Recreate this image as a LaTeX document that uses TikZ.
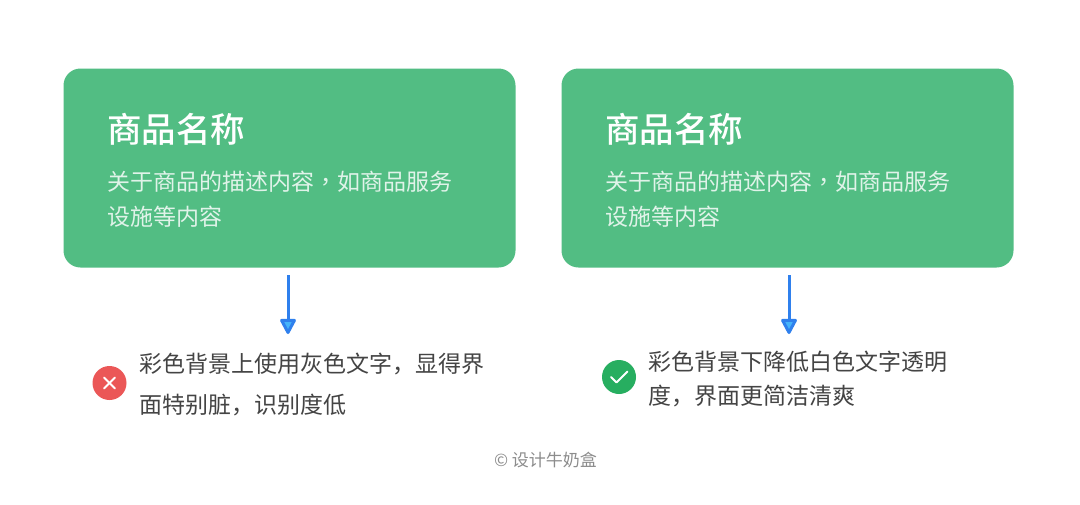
\documentclass[tikz,border=0pt]{standalone}
\usepackage{fontspec}
\setmainfont{Noto Sans CJK SC}
\newfontfamily\tcfont{Noto Sans CJK TC}
\newfontfamily\titlefont{Noto Sans CJK SC Medium}
\usetikzlibrary{arrows.meta}
\definecolor{cardgreen}{HTML}{52BD83}
\definecolor{softwhite}{HTML}{E0F3E9}
\definecolor{bodygrey}{HTML}{444444}
\definecolor{footgrey}{HTML}{8C8C8C}
\definecolor{arrowblue}{HTML}{2F80ED}
\definecolor{arrowfill}{HTML}{45B4FA}
\definecolor{badred}{HTML}{EB5757}
\definecolor{goodgreen}{HTML}{27AE60}
\tikzset{
  x=1pt,y=-1pt,
  card/.style={fill=cardgreen,rounded corners=17pt,minimum width=452pt,minimum height=199pt,inner sep=0pt,draw=none},
  cardtitle/.style={text=white,anchor=base west,inner sep=0pt,font=\fontsize{34.5}{40}\titlefont},
  cardbody/.style={text=softwhite,anchor=base west,inner sep=0pt,font=\fontsize{23}{34}\selectfont},
  note/.style={text=bodygrey,anchor=base west,inner sep=0pt,font=\fontsize{23}{42}\selectfont},
  flow/.style={draw=arrowblue,line width=3pt,-{Triangle[open,round,fill=arrowfill,length=17pt,width=17pt,line width=3pt]}},
  badge/.style={circle,minimum size=34pt,inner sep=0pt},
  glyphline/.style={draw=white,line width=2pt,line cap=round,line join=round},
  foot/.style={text=footgrey,inner sep=0pt,font=\fontsize{17}{20}\selectfont}
}
\begin{document}
\begin{tikzpicture}
\useasboundingbox (0,0) rectangle (1080,504);
\fill[white] (0,0) rectangle (1080,504);
\node[card] (c1) at (289.5,168) {};
\node[card] (c2) at (787.5,168) {};
\node[cardtitle] (t1) at (107,142) {商品名称};
\node[cardtitle] (t2) at (605,142) {商品名称};
\node[cardbody] (b1a) at (107,190) {关于商品的描述内容{\tcfont ，}如商品服务};
\node[cardbody] (b1b) at (107,225) {设施等内容};
\node[cardbody] (b2a) at (605,190) {关于商品的描述内容{\tcfont ，}如商品服务};
\node[cardbody] (b2b) at (605,225) {设施等内容};
\coordinate (s1) at (288,275);
\coordinate (e1) at (288,334);
\coordinate (s2) at (789,275);
\coordinate (e2) at (789,334);
\draw[flow] (s1) -- (e1);
\draw[flow] (s2) -- (e2);
\node[badge,fill=badred] (bad) at (109.5,383) {};
\draw[glyphline] ([shift={(-5.5,-5.5)}]bad.center) -- ([shift={(5.5,5.5)}]bad.center);
\draw[glyphline] ([shift={(5.5,-5.5)}]bad.center) -- ([shift={(-5.5,5.5)}]bad.center);
\node[badge,fill=goodgreen] (good) at (619,377) {};
\draw[glyphline] ([shift={(-8,0)}]good.center) -- ([shift={(-2.5,5.5)}]good.center) -- ([shift={(8.5,-5.5)}]good.center);
\node[note] (n1a) at (139,372) {彩色背景上使用灰色文字，显得界};
\node[note] (n1b) at (139,413) {面特别脏，识别度低};
\node[note] (n2a) at (648,370) {彩色背景下降低白色文字透明};
\node[note] (n2b) at (648,404) {度，界面更简洁清爽};
\node[foot] (f) at (545.5,460) {© 设计牛奶盒};
\end{tikzpicture}
\end{document}
